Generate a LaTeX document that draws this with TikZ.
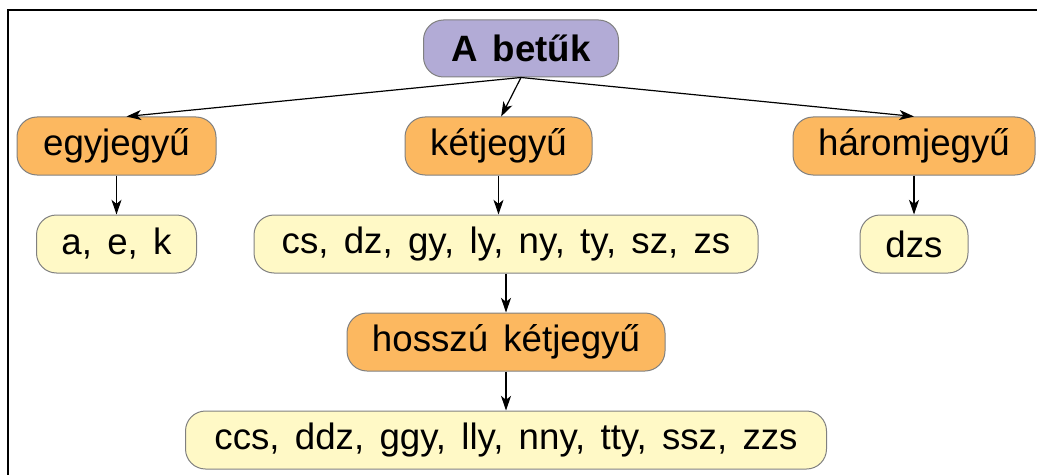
\documentclass[tikz,border=0pt]{standalone}
\usepackage{fontspec}
\setmainfont{Liberation Sans}[WordSpace=1.5]
\usetikzlibrary{arrows.meta}
\definecolor{orangec}{RGB}{252,184,96}
\definecolor{yellowc}{RGB}{255,249,198}
\definecolor{lavc}{RGB}{178,171,214}
\definecolor{borderc}{RGB}{128,128,128}
\begin{document}
\begin{tikzpicture}[x=0.75pt,y=-0.75pt,
  box/.style={draw=borderc, line width=0.75pt, rounded corners=15pt, minimum height=43.5pt, inner sep=0pt, font=\fontsize{27.5}{33}\selectfont},
  cat/.style={box, fill=orangec},
  leaf/.style={box, fill=yellowc},
  top/.style={box, fill=lavc, font=\fontsize{27.5}{33}\selectfont\bfseries},
  arr/.style={-{Stealth[length=11pt,width=7.5pt,inset=3pt]}, line width=0.9pt, black}]
\useasboundingbox (0,0) rectangle (1037,474);
\clip (0,0) rectangle (1037,474);
\draw[line width=1.9pt] (8,480) -- (8,10) -- (1045,10);
\node[top, minimum width=146.25pt, minimum height=42.75pt] (t) at (521,48.5) {A betűk};
\node[cat, minimum width=149.25pt] (egy) at (116.5,146) {egyjegyű};
\node[cat, minimum width=140.25pt] (ket) at (498.5,146) {kétjegyű};
\node[cat, minimum width=181.5pt] (har) at (914,146) {háromjegyű};
\node[leaf, minimum width=120pt] (aek) at (116.5,244) {a, e, k};
\node[leaf, minimum width=378pt] (cs) at (506,244) {cs, dz, gy, ly, ny, ty, sz, zs};
\node[leaf, minimum width=81pt] (dzs) at (914,244) {dzs};
\node[cat, minimum width=238.5pt] (hk) at (506,342) {hosszú kétjegyű};
\node[leaf, minimum width=480.75pt] (ccs) at (506,440) {ccs, ddz, ggy, lly, nny, tty, ssz, zzs};
\draw[arr] (t.south) -- ([xshift=7.5pt]egy.north);
\draw[arr] (t.south) -- ([xshift=2pt]ket.north);
\draw[arr] (t.south) -- (har.north);
\draw[arr] (egy.south) -- (aek.north);
\draw[arr] (ket.south) -- (ket.south |- cs.north);
\draw[arr] (har.south) -- (dzs.north);
\draw[arr] (cs.south) -- (hk.north);
\draw[arr] (hk.south) -- (ccs.north);
\end{tikzpicture}
\end{document}
